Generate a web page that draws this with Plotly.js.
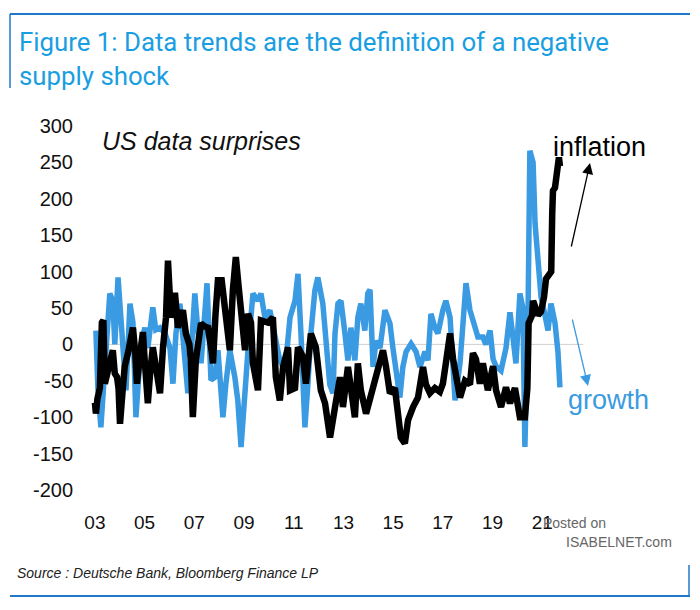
<!DOCTYPE html>
<html>
<head>
<meta charset="utf-8">
<script src="https://cdn.plot.ly/plotly-3.0.1.min.js"></script>
<style>html,body{margin:0;padding:0;background:#fff;}#chart{width:700px;height:610px;}</style>
</head>
<body>
<div id="chart"></div>
<script>
// ---- data (decimal years, index values) ----
const growthDates = [2003.04,2003.12,2003.24,2003.44,2003.60,2003.72,2003.80,2003.93,2004.05,2004.13,2004.25,2004.41,2004.53,2004.65,2004.73,2004.85,2005.01,2005.13,2005.33,2005.45,2005.62,2005.82,2006.02,2006.14,2006.26,2006.42,2006.54,2006.66,2006.74,2006.86,2007.02,2007.14,2007.27,2007.43,2007.51,2007.67,2007.83,2007.95,2008.15,2008.27,2008.43,2008.63,2008.75,2008.88,2009.04,2009.16,2009.36,2009.56,2009.68,2009.84,2010.04,2010.24,2010.44,2010.65,2010.85,2011.05,2011.17,2011.29,2011.45,2011.57,2011.69,2011.85,2011.97,2012.17,2012.29,2012.45,2012.58,2012.66,2012.78,2012.90,2013.06,2013.18,2013.30,2013.46,2013.58,2013.70,2013.86,2013.98,2014.07,2014.19,2014.31,2014.47,2014.67,2014.87,2014.99,2015.11,2015.27,2015.39,2015.52,2015.72,2015.92,2016.08,2016.28,2016.40,2016.52,2016.68,2016.80,2017.00,2017.12,2017.29,2017.41,2017.49,2017.69,2017.81,2017.93,2018.09,2018.21,2018.41,2018.61,2018.73,2018.90,2019.02,2019.14,2019.34,2019.54,2019.70,2019.82,2019.94,2020.10,2020.22,2020.30,2020.42,2020.50,2020.63,2020.71,2020.83,2020.95,2021.11,2021.23,2021.35,2021.51,2021.63,2021.71];
const growthValues = [19,-60,-114,-8,70,60,0,92,37,10,-63,56,30,-100,-63,0,23,-5,51,20,23,15,-5,-54,15,56,10,-45,-67,-20,70,20,-26,47,84,-49,-45,-8,-100,-54,-8,-45,-77,-141,-54,-8,70,60,70,37,47,15,-22,-36,37,60,97,15,-114,-54,15,74,92,56,15,-55,-67,15,56,60,15,-22,23,-22,37,56,19,70,75,-31,5,-5,47,29,-5,-31,-73,-31,-10,1,-10,-31,-10,-22,42,23,15,47,60,37,-54,-77,-26,29,84,47,33,10,10,0,19,-20,-30,-36,-5,44,10,-26,70,50,-141,20,266,250,166,111,65,40,19,56,30,-10,-59];

const inflationDates = [2003.00,2003.04,2003.10,2003.20,2003.28,2003.34,2003.40,2003.50,2003.60,2003.72,2003.80,2003.89,2003.95,2004.01,2004.10,2004.20,2004.33,2004.45,2004.53,2004.62,2004.69,2004.80,2004.93,2005.00,2005.13,2005.22,2005.33,2005.45,2005.62,2005.74,2005.86,2005.94,2006.00,2006.06,2006.15,2006.22,2006.34,2006.45,2006.54,2006.66,2006.80,2006.86,2006.94,2007.06,2007.20,2007.27,2007.40,2007.55,2007.70,2007.75,2007.85,2007.95,2008.10,2008.20,2008.23,2008.35,2008.43,2008.55,2008.67,2008.78,2008.84,2008.96,2009.04,2009.16,2009.28,2009.36,2009.50,2009.56,2009.68,2009.96,2010.16,2010.28,2010.44,2010.57,2010.77,2010.85,2011.05,2011.17,2011.37,2011.49,2011.69,2011.89,2012.09,2012.26,2012.46,2012.58,2012.66,2012.86,2012.98,2013.18,2013.30,2013.46,2013.58,2013.70,2013.91,2014.11,2014.31,2014.51,2014.59,2014.71,2014.87,2015.07,2015.19,2015.31,2015.47,2015.60,2015.80,2016.00,2016.20,2016.32,2016.48,2016.68,2016.88,2017.00,2017.12,2017.29,2017.41,2017.49,2017.69,2017.89,2018.09,2018.21,2018.33,2018.49,2018.61,2018.81,2019.02,2019.14,2019.34,2019.54,2019.70,2019.90,2020.10,2020.30,2020.40,2020.45,2020.59,2020.63,2020.83,2020.95,2021.07,2021.15,2021.25,2021.36,2021.40,2021.43,2021.51,2021.55,2021.63,2021.67,2021.71];
const inflationValues = [-80,-95,-75,-60,30,33,-54,-40,-20,-8,-40,-45,-60,-109,-70,-30,-12,10,23,-10,-54,-20,17,-20,-81,-40,-4,-30,-67,-4,37,115,60,37,50,71,23,40,47,15,0,-22,-100,-22,10,29,25,23,-10,-26,40,88,88,60,37,0,-8,74,120,80,60,23,-8,42,30,-26,-50,-63,33,30,37,-45,-77,-31,-4,-63,-60,-4,-17,-54,15,-4,-63,-81,-128,-100,-86,-45,-86,-31,-60,-100,-26,-63,-95,-70,-45,-22,-8,-30,-67,-60,-91,-128,-136,-104,-86,-73,-31,-55,-67,-60,-65,-54,-26,15,-20,-36,-73,-50,-55,-12,-20,-54,-26,-63,-30,-63,-86,-59,-81,-60,-100,-100,-60,29,40,60,40,45,65,90,97,100,180,211,215,225,243,257,245];

const tickYears = [2003,2005,2007,2009,2011,2013,2015,2017,2019,2021];
const tickLabels = ['03','05','07','09','11','13','15','17','19','21'];
const yTicks = [300,250,200,150,100,50,0,-50,-100,-150,-200];
const yTickLabels = ['300','250','200','150','100','50','0','-50','-100','-150','-200'];

// ---- layout helpers (pixel -> paper) ----
const W = 700, H = 610;
const M = {l: 80, r: 110, t: 126, b: 120};
const PW = W - M.l - M.r, PH = H - M.t - M.b;
const px = x => (x - M.l) / PW;
const py = y => (H - M.b - y) / PH;

const blue = '#3a9ae2';
const frameBlue = '#1f78c8';
const titleBlue = '#1a9ee2';

const traces = [
  {x: growthDates, y: growthValues, type: 'scatter', mode: 'lines',
   line: {color: blue, width: 5.5}, name: 'growth', hoverinfo: 'skip'},
  {x: inflationDates, y: inflationValues, type: 'scatter', mode: 'lines',
   line: {color: '#000000', width: 6.5}, name: 'inflation', hoverinfo: 'skip'}
];

const layout = {
  width: W, height: H,
  margin: M,
  paper_bgcolor: '#ffffff', plot_bgcolor: '#ffffff',
  showlegend: false,
  font: {family: 'Liberation Sans, Arial, sans-serif', color: '#111'},
  xaxis: {
    range: [2002.40, 2022.92],
    tickvals: tickYears, ticktext: tickLabels,
    ticks: 'outside', ticklen: 15, tickcolor: 'rgba(0,0,0,0)',
    showgrid: false, zeroline: false, showline: false,
    tickfont: {size: 19, color: '#111'}
  },
  yaxis: {
    range: [-200, 300],
    tickvals: yTicks, ticktext: yTickLabels,
    ticks: 'outside', ticklen: 2, tickcolor: 'rgba(0,0,0,0)',
    showgrid: false, zeroline: false, showline: false,
    tickfont: {size: 20, color: '#111'}
  },
  shapes: [
    {type: 'line', xref: 'x', yref: 'y', x0: 2003, x1: 2022.65, y0: 0, y1: 0,
     line: {color: '#cfcfcf', width: 1}, layer: 'below'},
    {type: 'line', xref: 'paper', yref: 'paper', x0: px(10), x1: px(690), y0: py(14), y1: py(14), line: {color: frameBlue, width: 2}},
    {type: 'line', xref: 'paper', yref: 'paper', x0: px(10), x1: px(10), y0: py(14), y1: py(88), line: {color: frameBlue, width: 1.5}},
    {type: 'line', xref: 'paper', yref: 'paper', x0: px(10), x1: px(690), y0: py(596), y1: py(596), line: {color: frameBlue, width: 2}},
    {type: 'line', xref: 'paper', yref: 'paper', x0: px(689), x1: px(689), y0: py(565), y1: py(596), line: {color: frameBlue, width: 1.5}}
  ],
  annotations: [
    {xref: 'paper', yref: 'paper', x: px(17), y: py(25), xanchor: 'left', yanchor: 'top', align: 'left', showarrow: false,
     text: 'Figure 1: Data trends are the definition of a negative<br>supply shock',
     font: {family: 'Roboto, sans-serif', size: 25.8, color: titleBlue}},
    {xref: 'paper', yref: 'paper', x: px(100), y: py(141), xanchor: 'left', yanchor: 'middle', showarrow: false,
     text: '<i>US data surprises</i>', font: {size: 25, color: '#111'}},
    {xref: 'paper', yref: 'paper', x: px(551), y: py(147), xanchor: 'left', yanchor: 'middle', showarrow: false,
     text: 'inflation', font: {size: 27, color: '#000'}},
    {xref: 'paper', yref: 'paper', x: px(566), y: py(400), xanchor: 'left', yanchor: 'middle', showarrow: false,
     text: 'growth', font: {size: 27, color: blue}},
    {xref: 'paper', yref: 'paper', x: px(590), y: py(163), ax: -19, ay: 85, showarrow: true, text: '',
     arrowhead: 2, arrowsize: 1.7, arrowwidth: 1.3, arrowcolor: '#000'},
    {xref: 'paper', yref: 'paper', x: px(588), y: py(386), ax: -16, ay: -68, showarrow: true, text: '',
     arrowhead: 2, arrowsize: 1.7, arrowwidth: 1.3, arrowcolor: blue},
    {xref: 'paper', yref: 'paper', x: px(541), y: py(523), xanchor: 'left', yanchor: 'middle', showarrow: false,
     text: 'Posted on', font: {family: 'Liberation Sans Narrow, Liberation Sans, sans-serif', size: 14, color: '#666'}},
    {xref: 'paper', yref: 'paper', x: px(564), y: py(542), xanchor: 'left', yanchor: 'middle', showarrow: false,
     text: 'ISABELNET.com', font: {family: 'Liberation Sans Narrow, Liberation Sans, sans-serif', size: 14, color: '#666'}},
    {xref: 'paper', yref: 'paper', x: px(15), y: py(573), xanchor: 'left', yanchor: 'middle', showarrow: false,
     text: '<i>Source : Deutsche Bank, Bloomberg Finance LP</i>', font: {size: 14, color: '#222'}}
  ]
};

Plotly.newPlot('chart', traces, layout, {staticPlot: true, displayModeBar: false});
</script>
</body>
</html>
